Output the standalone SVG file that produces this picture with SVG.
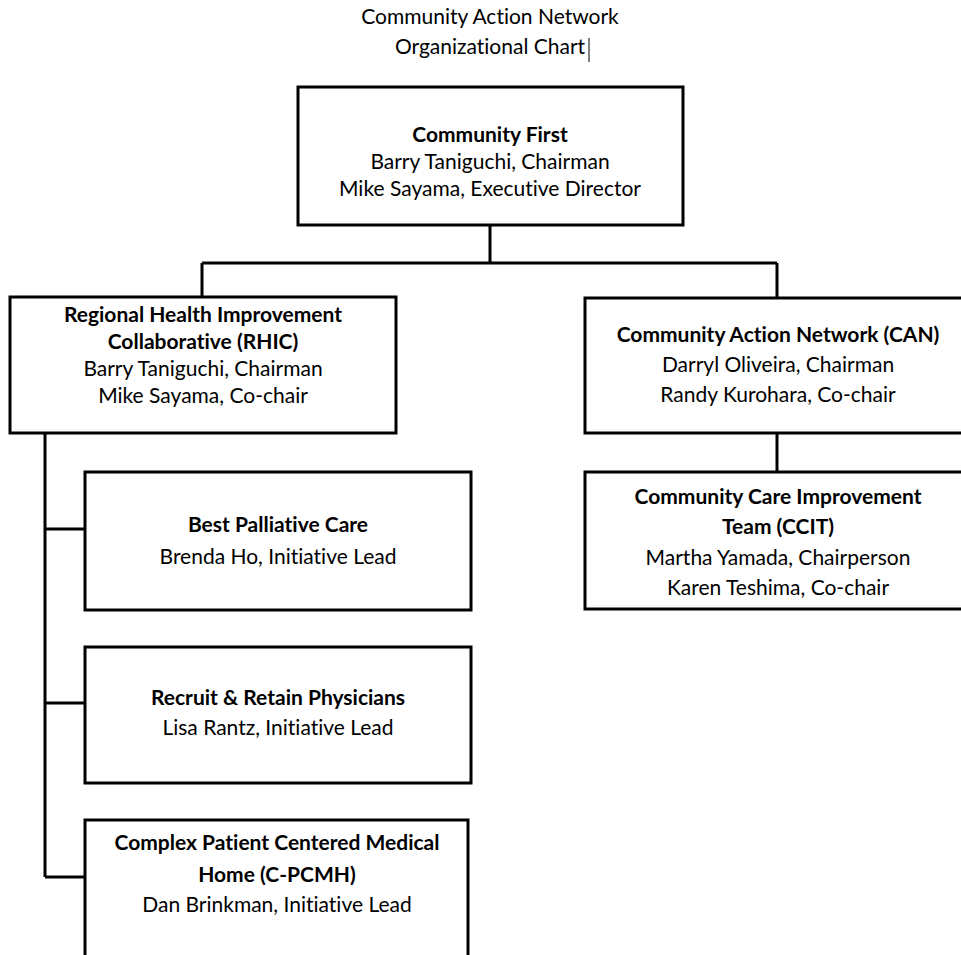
<svg xmlns="http://www.w3.org/2000/svg" width="961" height="955" viewBox="0 0 961 955">
<style>
text{font-family:Lato,"Open Sans","Liberation Sans",sans-serif;font-size:21px;fill:#000;text-anchor:middle;font-variant-ligatures:none}
.b{font-weight:bold}
.box{fill:#fff;stroke:#000;stroke-width:3}
.ln{fill:none;stroke:#000;stroke-width:3}
</style>
<rect width="961" height="955" fill="#fff"/>
<g id="title">
<text x="490" y="24">Community Action Network</text>
<text x="490" y="54">Organizational Chart</text>
<line x1="589" y1="38" x2="589" y2="62" stroke="#000" stroke-width="1"/>
</g>
<g id="connectors">
<path class="ln" d="M490 225V263M202 263H777M202 263V297M777 263V298"/>
<path class="ln" d="M777 433V472"/>
<path class="ln" d="M45 433V877M45 529H85M45 703H85M45 877H85"/>
</g>
<g id="community-first">
<rect class="box" x="298" y="87" width="385" height="138"/>
<text class="b" x="490" y="142">Community First</text>
<text x="490" y="169">Barry Taniguchi, Chairman</text>
<text x="490" y="196">Mike Sayama, Executive Director</text>
</g>
<g id="rhic">
<rect class="box" x="10" y="297" width="386" height="136"/>
<text class="b" x="203" y="322">Regional Health Improvement</text>
<text class="b" x="203" y="349">Collaborative (RHIC)</text>
<text x="203" y="376">Barry Taniguchi, Chairman</text>
<text x="203" y="403">Mike Sayama, Co-chair</text>
</g>
<g id="can">
<rect class="box" x="585" y="298" width="390" height="135"/>
<text class="b" x="778" y="342">Community Action Network (CAN)</text>
<text x="778" y="372">Darryl Oliveira, Chairman</text>
<text x="778" y="402">Randy Kurohara, Co-chair</text>
</g>
<g id="ccit">
<rect class="box" x="585" y="472" width="390" height="137"/>
<text class="b" x="778" y="504">Community Care Improvement</text>
<text class="b" x="778" y="534">Team (CCIT)</text>
<text x="778" y="565">Martha Yamada, Chairperson</text>
<text x="778" y="595">Karen Teshima, Co-chair</text>
</g>
<g id="best-palliative-care">
<rect class="box" x="85" y="472" width="386" height="138"/>
<text class="b" x="278" y="532">Best Palliative Care</text>
<text x="278" y="564">Brenda Ho, Initiative Lead</text>
</g>
<g id="recruit-retain">
<rect class="box" x="85" y="647" width="386" height="136"/>
<text class="b" x="278" y="705">Recruit &amp; Retain Physicians</text>
<text x="278" y="735">Lisa Rantz, Initiative Lead</text>
</g>
<g id="c-pcmh">
<rect class="box" x="85" y="820" width="383" height="160"/>
<text class="b" x="277" y="850">Complex Patient Centered Medical</text>
<text class="b" x="277" y="882">Home (C-PCMH)</text>
<text x="277" y="912">Dan Brinkman, Initiative Lead</text>
</g>
</svg>
